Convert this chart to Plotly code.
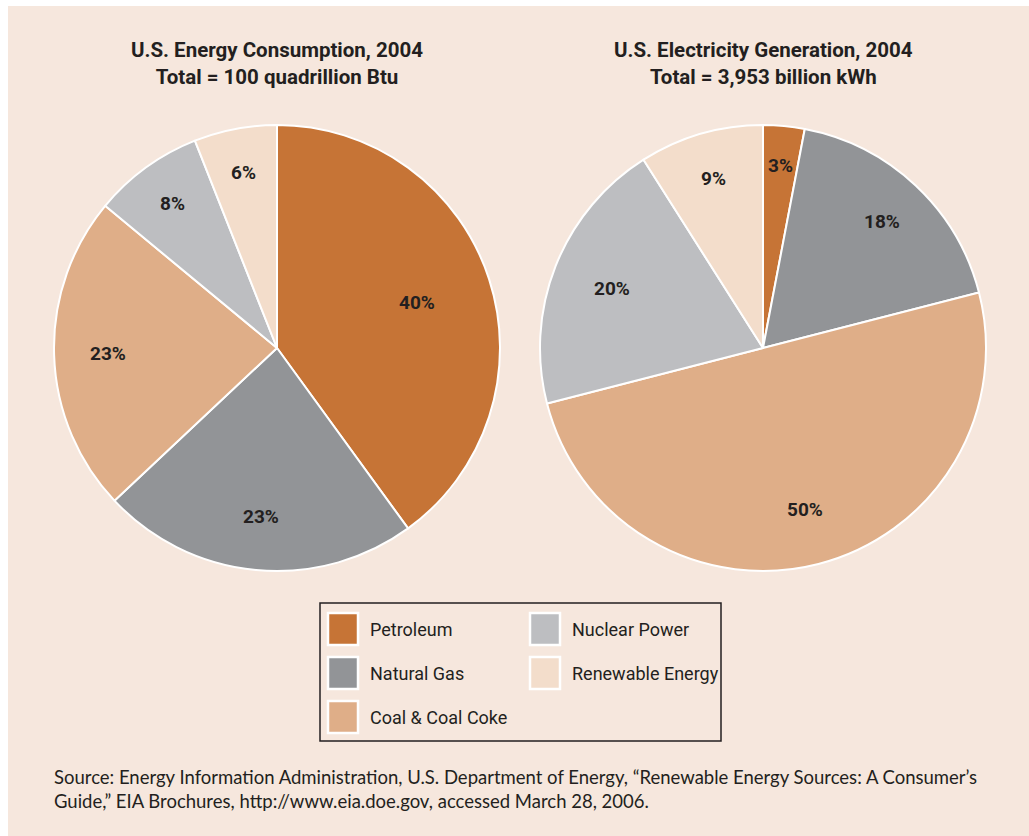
import math
import plotly.graph_objects as go

# Energy source categories and their legend colours
categories = ["Petroleum", "Natural Gas", "Coal & Coal Coke", "Nuclear Power", "Renewable Energy"]
colors = ["#C67436", "#929497", "#DFAE88", "#BDBEC1", "#F3DDCB"]

# Shares in percent, 2004
consumption_pct = [40, 23, 23, 8, 6]
generation_pct = [3, 18, 50, 20, 9]

titles = [
    "U.S. Energy Consumption, 2004<br>Total = 100 quadrillion Btu",
    "U.S. Electricity Generation, 2004<br>Total = 3,953 billion kWh",
]
source_note = (
    "Source: Energy Information Administration, U.S. Department of Energy, \u201cRenewable Energy Sources: A Consumer\u2019s<br>"
    "Guide,\u201d EIA Brochures, http://www.eia.doe.gov, accessed March 28, 2006."
)

# radial placement of the percentage labels (fraction of the pie radius)
label_radius = [[0.66, 0.76, 0.76, 0.80, 0.80], [0.82, 0.78, 0.75, 0.73, 0.79]]

W, H = 1029, 836
BG = "#F6E7DD"
INK = "#231F20"
COND = "Roboto"


def px(x):
    return x / W


def py(y):
    return 1 - y / H


fig = go.Figure()

pie_centers = [277, 763]
R = 223
CY = 348
annotations = []
for k, (cx, vals) in enumerate(zip(pie_centers, [consumption_pct, generation_pct])):
    fig.add_trace(go.Pie(
        labels=categories,
        values=vals,
        sort=False,
        direction="clockwise",
        rotation=0,
        marker=dict(colors=colors, line=dict(color="white", width=2)),
        textinfo="none",
        hoverinfo="label+percent",
        showlegend=False,
        domain=dict(x=[px(cx - R), px(cx + R)], y=[py(CY + R), py(CY - R)]),
    ))
    # percentage labels at each slice's mid angle (clockwise from 12 o'clock)
    total = sum(vals)
    cum = 0
    for v, rf in zip(vals, label_radius[k]):
        mid = 2 * math.pi * (cum + v / 2) / total
        cum += v
        lx = cx + rf * R * math.sin(mid)
        ly = CY - rf * R * math.cos(mid)
        annotations.append(dict(
            x=px(lx), y=py(ly), xref="paper", yref="paper", text=f"{v}%", showarrow=False,
            xanchor="center", yanchor="middle",
            font=dict(family=COND, size=19, color=INK, weight="bold"),
        ))

shapes = [
    # panel background
    dict(type="rect", xref="paper", yref="paper", x0=px(8), x1=1, y0=0, y1=py(6),
         fillcolor=BG, line=dict(width=0), layer="below"),
    # legend frame
    dict(type="rect", xref="paper", yref="paper", x0=px(320), x1=px(721), y0=py(741), y1=py(603),
         fillcolor="rgba(0,0,0,0)", line=dict(color=INK, width=1.5)),
]

for cx, t in zip(pie_centers, titles):
    annotations.append(dict(
        x=px(cx), y=py(63), xref="paper", yref="paper", text=t, showarrow=False,
        xanchor="center", yanchor="middle", align="center",
        font=dict(family=COND, size=20.5, color=INK, weight="bold"),
    ))

# legend: two columns, swatch + label
col_x = [328, 530]
row_y = [629, 673, 717]
for i, (name, col) in enumerate(zip(categories, colors)):
    c = 0 if i < 3 else 1
    r = i if i < 3 else i - 3
    x0 = col_x[c]
    yc = row_y[r]
    shapes.append(dict(type="rect", xref="paper", yref="paper",
                       x0=px(x0), x1=px(x0 + 30), y0=py(yc + 16), y1=py(yc - 16),
                       fillcolor=col, line=dict(color="white", width=2.5)))
    annotations.append(dict(
        x=px(x0 + 40), y=py(yc), xref="paper", yref="paper", text=name, showarrow=False,
        xanchor="left", yanchor="middle",
        font=dict(family=COND, size=18, color=INK),
    ))

annotations.append(dict(
    x=px(52), y=py(789), xref="paper", yref="paper", text=source_note, showarrow=False,
    xanchor="left", yanchor="middle", align="left",
    font=dict(family="Lato", size=18.5, color=INK),
))

fig.update_layout(
    width=W, height=H,
    margin=dict(l=0, r=0, t=0, b=0),
    paper_bgcolor="white",
    plot_bgcolor="white",
    shapes=shapes,
    annotations=annotations,
)

fig.write_html("out.html")
